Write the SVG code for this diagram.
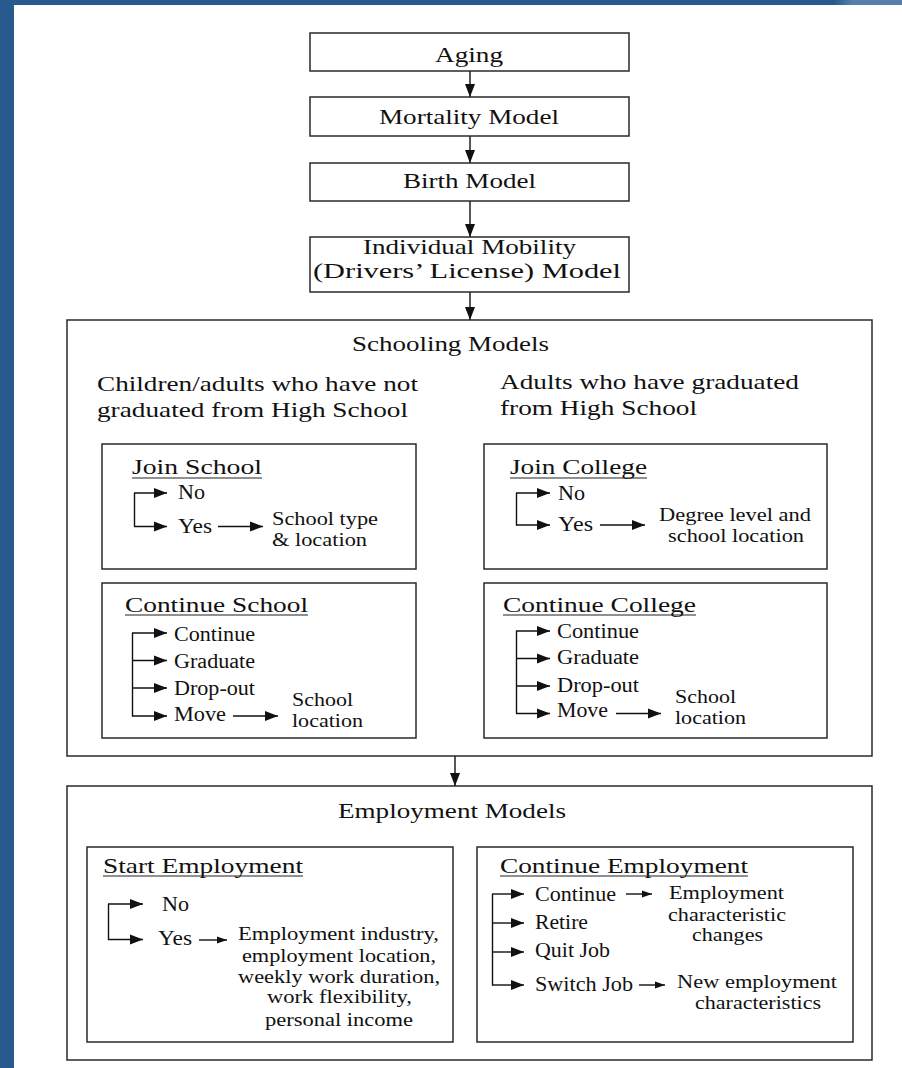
<svg xmlns="http://www.w3.org/2000/svg" width="902" height="1068" viewBox="0 0 902 1068">
  <style>
    .box { fill: #ffffff; stroke: #2a2a2a; stroke-width: 1.5; }
    .ln { fill: none; stroke: #111111; stroke-width: 1.4; }
    .ul { stroke: #222222; stroke-width: 1.2; }
    text { font-family: "Liberation Serif", "Times New Roman", serif; fill: #111111; }
    .h { font-size: 22px; }
    .m { font-size: 20px; }
    .s { font-size: 19px; }
  </style>
  <defs>
    <linearGradient id="band" gradientUnits="userSpaceOnUse" x1="0" y1="0" x2="902" y2="0">
      <stop offset="0" stop-color="#275b8f"/>
      <stop offset="0.925" stop-color="#275b8f"/>
      <stop offset="0.945" stop-color="#5580ac"/>
      <stop offset="1" stop-color="#5580ac"/>
    </linearGradient>
    <marker id="ah" markerUnits="userSpaceOnUse" viewBox="0 0 13 12" markerWidth="13" markerHeight="12" refX="13" refY="6" orient="auto">
      <path d="M0,1 L13,6 L0,11 z" fill="#111111"/>
    </marker>
    <marker id="ahs" markerUnits="userSpaceOnUse" viewBox="0 0 10 8" markerWidth="10" markerHeight="8" refX="10" refY="4" orient="auto">
      <path d="M0,0.5 L10,4 L0,7.5 z" fill="#111111"/>
    </marker>
  </defs>

  <!-- page background and slide frame -->
  <rect x="0" y="0" width="902" height="1068" fill="#ffffff"/>
  <rect x="0" y="0" width="14" height="1068" fill="#275b8f"/>
  <rect x="0" y="0" width="902" height="5" fill="url(#band)"/>
  <rect x="0" y="0" width="14" height="5" fill="#275b8f"/>

  <!-- connectors between the model stages -->
  <g id="connectors">
    <line class="ln" x1="470" y1="71" x2="470" y2="97" marker-end="url(#ah)"/>
    <line class="ln" x1="470" y1="136" x2="470" y2="163" marker-end="url(#ah)"/>
    <line class="ln" x1="470" y1="201" x2="470" y2="237" marker-end="url(#ah)"/>
    <line class="ln" x1="470" y1="292" x2="470" y2="320" marker-end="url(#ah)"/>
    <line class="ln" x1="455" y1="756" x2="455" y2="786" marker-end="url(#ah)"/>
  </g>

  <g id="aging">
    <rect class="box" x="310" y="33" width="319" height="38"/>
    <text class="h" x="435" y="61.5" textLength="68" lengthAdjust="spacingAndGlyphs">Aging</text>
  </g>

  <g id="mortality">
    <rect class="box" x="310" y="97" width="319" height="39"/>
    <text class="h" x="379" y="124" textLength="180" lengthAdjust="spacingAndGlyphs">Mortality Model</text>
  </g>

  <g id="birth">
    <rect class="box" x="310" y="163" width="319" height="38"/>
    <text class="h" x="403" y="188" textLength="133" lengthAdjust="spacingAndGlyphs">Birth Model</text>
  </g>

  <g id="mobility">
    <rect class="box" x="310" y="237" width="319" height="55"/>
    <text class="h" x="363" y="254" textLength="213" lengthAdjust="spacingAndGlyphs">Individual Mobility</text>
    <text class="h" x="313" y="278" textLength="308" lengthAdjust="spacingAndGlyphs">(Drivers’ License) Model</text>
  </g>

  <!-- schooling models -->
  <g id="schooling">
    <rect class="box" x="67" y="320" width="805" height="436"/>
    <text class="h" x="352" y="351" textLength="197" lengthAdjust="spacingAndGlyphs">Schooling Models</text>
    <text class="h" x="97" y="391" textLength="321" lengthAdjust="spacingAndGlyphs">Children/adults who have not</text>
    <text class="h" x="97" y="417" textLength="311" lengthAdjust="spacingAndGlyphs">graduated from High School</text>
    <text class="h" x="500" y="389" textLength="299" lengthAdjust="spacingAndGlyphs">Adults who have graduated</text>
    <text class="h" x="500" y="415" textLength="197" lengthAdjust="spacingAndGlyphs">from High School</text>
  </g>

  <g id="join-school">
    <rect class="box" x="102" y="444" width="314" height="125"/>
    <text class="h" x="132" y="474" textLength="130" lengthAdjust="spacingAndGlyphs">Join School</text>
    <line class="ul" x1="132" y1="478" x2="262" y2="478"/>
    <path class="ln" d="M134.5,493 V526.5"/>
    <line class="ln" x1="134" y1="493" x2="167" y2="493" marker-end="url(#ah)"/>
    <line class="ln" x1="134" y1="526.5" x2="167" y2="526.5" marker-end="url(#ah)"/>
    <text class="m" x="178" y="499" textLength="27" lengthAdjust="spacingAndGlyphs">No</text>
    <text class="m" x="178" y="533" textLength="34" lengthAdjust="spacingAndGlyphs">Yes</text>
    <line class="ln" x1="218" y1="526.5" x2="263" y2="526.5" marker-end="url(#ah)"/>
    <text class="s" x="272" y="525" textLength="106" lengthAdjust="spacingAndGlyphs">School type</text>
    <text class="s" x="272" y="546" textLength="95" lengthAdjust="spacingAndGlyphs">&amp; location</text>
  </g>

  <g id="continue-school">
    <rect class="box" x="102" y="583" width="314" height="155"/>
    <text class="h" x="125" y="611.5" textLength="183" lengthAdjust="spacingAndGlyphs">Continue School</text>
    <line class="ul" x1="125" y1="615" x2="308" y2="615"/>
    <path class="ln" d="M132.5,633 V716.5"/>
    <line class="ln" x1="132" y1="633" x2="167" y2="633" marker-end="url(#ah)"/>
    <line class="ln" x1="132" y1="660.5" x2="167" y2="660.5" marker-end="url(#ah)"/>
    <line class="ln" x1="132" y1="688" x2="167" y2="688" marker-end="url(#ah)"/>
    <line class="ln" x1="132" y1="716" x2="167" y2="716" marker-end="url(#ah)"/>
    <text class="m" x="174" y="641" textLength="81" lengthAdjust="spacingAndGlyphs">Continue</text>
    <text class="m" x="174" y="668" textLength="81" lengthAdjust="spacingAndGlyphs">Graduate</text>
    <text class="m" x="174" y="695" textLength="81" lengthAdjust="spacingAndGlyphs">Drop-out</text>
    <text class="m" x="174" y="721" textLength="52" lengthAdjust="spacingAndGlyphs">Move</text>
    <line class="ln" x1="233" y1="716" x2="278" y2="716" marker-end="url(#ah)"/>
    <text class="s" x="292" y="706" textLength="61" lengthAdjust="spacingAndGlyphs">School</text>
    <text class="s" x="292" y="727" textLength="71" lengthAdjust="spacingAndGlyphs">location</text>
  </g>

  <g id="join-college">
    <rect class="box" x="484" y="444" width="343" height="125"/>
    <text class="h" x="510" y="474" textLength="137" lengthAdjust="spacingAndGlyphs">Join College</text>
    <line class="ul" x1="510" y1="478" x2="647" y2="478"/>
    <path class="ln" d="M516.5,493 V525.5"/>
    <line class="ln" x1="516" y1="493" x2="550" y2="493" marker-end="url(#ah)"/>
    <line class="ln" x1="516" y1="525" x2="550" y2="525" marker-end="url(#ah)"/>
    <text class="m" x="558" y="500" textLength="27" lengthAdjust="spacingAndGlyphs">No</text>
    <text class="m" x="558" y="531" textLength="35" lengthAdjust="spacingAndGlyphs">Yes</text>
    <line class="ln" x1="600" y1="525" x2="645" y2="525" marker-end="url(#ah)"/>
    <text class="s" x="659" y="521" textLength="152" lengthAdjust="spacingAndGlyphs">Degree level and</text>
    <text class="s" x="668" y="542" textLength="136" lengthAdjust="spacingAndGlyphs">school location</text>
  </g>

  <g id="continue-college">
    <rect class="box" x="484" y="583" width="343" height="155"/>
    <text class="h" x="503" y="611.5" textLength="193" lengthAdjust="spacingAndGlyphs">Continue College</text>
    <line class="ul" x1="503" y1="615" x2="696" y2="615"/>
    <path class="ln" d="M516.5,631 V713.5"/>
    <line class="ln" x1="516" y1="631" x2="550" y2="631" marker-end="url(#ah)"/>
    <line class="ln" x1="516" y1="658.5" x2="550" y2="658.5" marker-end="url(#ah)"/>
    <line class="ln" x1="516" y1="686" x2="550" y2="686" marker-end="url(#ah)"/>
    <line class="ln" x1="516" y1="713.5" x2="550" y2="713.5" marker-end="url(#ah)"/>
    <text class="m" x="557" y="638" textLength="82" lengthAdjust="spacingAndGlyphs">Continue</text>
    <text class="m" x="557" y="664" textLength="82" lengthAdjust="spacingAndGlyphs">Graduate</text>
    <text class="m" x="557" y="692" textLength="82" lengthAdjust="spacingAndGlyphs">Drop-out</text>
    <text class="m" x="557" y="717" textLength="51" lengthAdjust="spacingAndGlyphs">Move</text>
    <line class="ln" x1="616" y1="713.5" x2="661" y2="713.5" marker-end="url(#ah)"/>
    <text class="s" x="675" y="703" textLength="61" lengthAdjust="spacingAndGlyphs">School</text>
    <text class="s" x="675" y="724" textLength="71" lengthAdjust="spacingAndGlyphs">location</text>
  </g>

  <!-- employment models -->
  <g id="employment">
    <rect class="box" x="67" y="786" width="805" height="274"/>
    <text class="h" x="338" y="818" textLength="228" lengthAdjust="spacingAndGlyphs">Employment Models</text>
  </g>

  <g id="start-employment">
    <rect class="box" x="87" y="847" width="366" height="195"/>
    <text class="h" x="103" y="873" textLength="200" lengthAdjust="spacingAndGlyphs">Start Employment</text>
    <line class="ul" x1="103" y1="876" x2="303" y2="876"/>
    <path class="ln" d="M108.5,904 V940"/>
    <line class="ln" x1="108" y1="904" x2="143" y2="904" marker-end="url(#ah)"/>
    <line class="ln" x1="108" y1="939.5" x2="143" y2="939.5" marker-end="url(#ah)"/>
    <text class="m" x="162" y="911" textLength="27" lengthAdjust="spacingAndGlyphs">No</text>
    <text class="m" x="158" y="945" textLength="34" lengthAdjust="spacingAndGlyphs">Yes</text>
    <line class="ln" x1="199" y1="940" x2="227" y2="940" marker-end="url(#ahs)"/>
    <text class="s" x="238" y="940" textLength="201" lengthAdjust="spacingAndGlyphs">Employment industry,</text>
    <text class="s" x="242" y="962" textLength="194" lengthAdjust="spacingAndGlyphs">employment location,</text>
    <text class="s" x="238" y="983" textLength="202" lengthAdjust="spacingAndGlyphs">weekly work duration,</text>
    <text class="s" x="267" y="1003" textLength="145" lengthAdjust="spacingAndGlyphs">work flexibility,</text>
    <text class="s" x="265" y="1026" textLength="148" lengthAdjust="spacingAndGlyphs">personal income</text>
  </g>

  <g id="continue-employment">
    <rect class="box" x="477" y="847" width="376" height="195"/>
    <text class="h" x="500" y="873" textLength="248" lengthAdjust="spacingAndGlyphs">Continue Employment</text>
    <line class="ul" x1="500" y1="876" x2="748" y2="876"/>
    <path class="ln" d="M492.5,894 V985.5"/>
    <line class="ln" x1="492" y1="894" x2="524" y2="894" marker-end="url(#ah)"/>
    <line class="ln" x1="492" y1="923" x2="524" y2="923" marker-end="url(#ah)"/>
    <line class="ln" x1="492" y1="952" x2="524" y2="952" marker-end="url(#ah)"/>
    <line class="ln" x1="492" y1="985" x2="524" y2="985" marker-end="url(#ah)"/>
    <text class="m" x="535" y="901" textLength="81" lengthAdjust="spacingAndGlyphs">Continue</text>
    <text class="m" x="535" y="929" textLength="53" lengthAdjust="spacingAndGlyphs">Retire</text>
    <text class="m" x="535" y="957" textLength="75" lengthAdjust="spacingAndGlyphs">Quit Job</text>
    <text class="m" x="535" y="991" textLength="98" lengthAdjust="spacingAndGlyphs">Switch Job</text>
    <line class="ln" x1="626" y1="894" x2="652" y2="894" marker-end="url(#ahs)"/>
    <line class="ln" x1="639" y1="985" x2="665" y2="985" marker-end="url(#ahs)"/>
    <text class="s" x="669" y="899" textLength="115" lengthAdjust="spacingAndGlyphs">Employment</text>
    <text class="s" x="668" y="921" textLength="118" lengthAdjust="spacingAndGlyphs">characteristic</text>
    <text class="s" x="692" y="941" textLength="71" lengthAdjust="spacingAndGlyphs">changes</text>
    <text class="s" x="677" y="988" textLength="160" lengthAdjust="spacingAndGlyphs">New employment</text>
    <text class="s" x="695" y="1009" textLength="126" lengthAdjust="spacingAndGlyphs">characteristics</text>
  </g>
</svg>
